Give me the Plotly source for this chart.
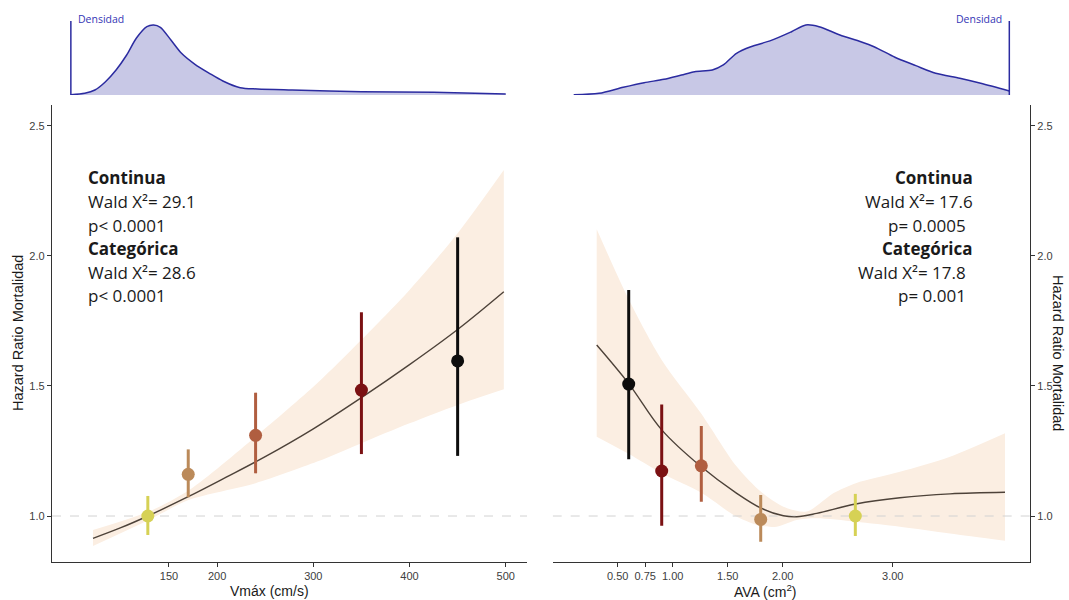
import plotly.graph_objects as go

W, H = 1069, 600

# ---------------- Vmáx panel ----------------
vmax_curve_x = [71, 100, 128, 170, 210, 250, 300, 350, 400, 450, 498]
vmax_curve_hr = [0.914, 0.955, 1.000, 1.074, 1.150, 1.228, 1.335, 1.455, 1.582, 1.717, 1.862]
vmax_ci_x = [71, 129, 171, 240, 304, 350, 400, 450, 498]
vmax_ci_upper = [0.946, 1.017, 1.100, 1.305, 1.510, 1.677, 1.869, 2.087, 2.330]
vmax_ci_lower = [0.885, 0.985, 1.062, 1.126, 1.209, 1.280, 1.356, 1.427, 1.487]

vmax_cat_x = [128, 170, 240, 350, 450]
vmax_cat_hr = [1.00, 1.16, 1.31, 1.484, 1.596]
vmax_cat_lo = [0.927, 1.072, 1.164, 1.238, 1.231]
vmax_cat_hi = [1.077, 1.256, 1.474, 1.783, 2.071]
vmax_cat_colors = ["#d6d155", "#bb8a5a", "#b05e40", "#7b1113", "#0d0d0d"]

vmax_dens_x = [48, 62.5, 73, 84, 95, 106, 116, 127, 134, 141, 152, 163, 177,
               192, 206, 224, 242, 278, 350, 425, 500]
vmax_dens_y = [0.004, 0.024, 0.071, 0.19, 0.357, 0.571, 0.81, 0.976, 1.0, 0.967,
               0.786, 0.596, 0.439, 0.31, 0.2, 0.104, 0.086, 0.071, 0.047, 0.039, 0.014]

vmax_ticks = [150, 200, 300, 400, 500]
vmax_ticktext = ["150", "200", "300", "400", "500"]

# ---------------- AVA panel ----------------
ava_curve_x = [0.309, 0.603, 0.90, 1.257, 1.582, 1.803, 2.006, 2.127, 2.309, 2.664, 3.066, 3.521, 4.021]
ava_curve_hr = [1.657, 1.507, 1.331, 1.190, 1.087, 1.030, 1.001, 0.997, 1.010, 1.046, 1.070, 1.085, 1.091]
ava_ci_upper_x = [0.309, 0.603, 0.90, 1.257, 1.582, 1.803, 2.006, 2.218, 2.46, 2.664, 3.066, 3.521, 4.021]
ava_ci_upper = [2.102, 1.830, 1.600, 1.395, 1.190, 1.093, 1.036, 1.017, 1.087, 1.126, 1.170, 1.228, 1.318]
ava_ci_lower_x = [0.309, 0.603, 0.90, 1.257, 1.582, 1.803, 1.945, 2.127, 2.309, 2.664, 3.066, 3.521, 4.021]
ava_ci_lower = [1.305, 1.238, 1.164, 1.090, 0.997, 0.962, 0.959, 0.985, 0.991, 0.978, 0.959, 0.933, 0.905]

ava_cat_x = [0.60, 0.90, 1.26, 1.80, 2.66]
ava_cat_hr = [1.507, 1.173, 1.193, 0.987, 1.00]
ava_cat_lo = [1.218, 0.963, 1.055, 0.901, 0.923]
ava_cat_hi = [1.869, 1.429, 1.346, 1.081, 1.085]
ava_cat_colors = ["#0d0d0d", "#7b1113", "#b05e40", "#bb8a5a", "#d6d155"]

ava_dens_x = [0.10, 0.33, 0.55, 0.74, 0.92, 1.08, 1.20, 1.36, 1.46, 1.58, 1.71, 1.89,
              2.08, 2.21, 2.33, 2.52, 2.71, 2.83, 3.02, 3.21, 3.39, 3.61, 3.80, 4.06]
ava_dens_y = [0.004, 0.024, 0.11, 0.176, 0.224, 0.286, 0.333, 0.357, 0.429, 0.596, 0.69,
              0.776, 0.904, 1.0, 0.976, 0.857, 0.761, 0.69, 0.539, 0.419, 0.31, 0.239,
              0.167, 0.057]

ava_ticks = [0.5, 0.75, 1.0, 1.5, 2.0, 3.0]
ava_ticktext = ["0.50", "0.75", "1.00", "1.50", "2.00", "3.00"]

hr_ticks = [1.0, 1.5, 2.0, 2.5]
hr_ticktext = ["1.0", "1.5", "2.0", "2.5"]

left_text = [("<b>Continua</b>", 177.5), ("Wald X²= 29.1", 201.5), ("p< 0.0001", 225),
             ("<b>Categórica</b>", 248.5), ("Wald X²= 28.6", 272), ("p< 0.0001", 295)]
right_text = [("<b>Continua</b>", 177.5, 975), ("Wald X²= 17.6", 201.5, 975),
              ("p= 0.0005", 225, 968), ("<b>Categórica</b>", 248.5, 975),
              ("Wald X²= 17.8", 272, 968), ("p= 0.001", 295, 968)]

# ---------------- style ----------------
BAND = "#fbeee2"
CURVE = "#4d4239"
DENS_FILL = "rgba(200,200,230,1)"
DENS_LINE = "#2b2ba0"
AXIS = "#333333"
TICKFONT = dict(family="Liberation Sans, Arial", size=11, color="#404040")
TEXTFONT = dict(family="Open Sans", size=17, color="#1a1a1a")

X_RANGE_V = [28.4, 522.1]
X_RANGE_A = [-0.091, 4.248]
Y_RANGE = [0.8232, 2.5796]
DENS_RANGE = [0, 1.057]


def fx(p):
    return p / W


def fy(p):
    return 1 - p / H


fig = go.Figure()


def add_panel(xa, ya, cx, cy, ux, uy, lx, ly, px, py, plo, phi, pcol, xr):
    fig.add_trace(go.Scatter(x=lx, y=ly, mode="lines", line=dict(width=0, shape="spline", smoothing=0.8),
                             xaxis=xa, yaxis=ya, hoverinfo="skip", showlegend=False))
    fig.add_trace(go.Scatter(x=ux, y=uy, mode="lines", line=dict(width=0, shape="spline", smoothing=0.8),
                             fill="tonexty", fillcolor=BAND, xaxis=xa, yaxis=ya,
                             hoverinfo="skip", showlegend=False))
    # reference line HR = 1
    fig.add_trace(go.Scatter(x=xr, y=[1.0, 1.0], mode="lines",
                             line=dict(color="#d2d2d2", width=1, dash="dash"),
                             xaxis=xa, yaxis=ya, hoverinfo="skip", showlegend=False))
    fig.add_trace(go.Scatter(x=cx, y=cy, mode="lines",
                             line=dict(color=CURVE, width=1.4, shape="spline", smoothing=1.0),
                             xaxis=xa, yaxis=ya, showlegend=False))
    for x, y, lo, hi, c in zip(px, py, plo, phi, pcol):
        fig.add_trace(go.Scatter(x=[x], y=[y], mode="markers",
                                 marker=dict(color=c, size=13, line=dict(width=0)),
                                 error_y=dict(type="data", symmetric=False, array=[hi - y],
                                              arrayminus=[y - lo], color=c, thickness=3, width=0),
                                 xaxis=xa, yaxis=ya, showlegend=False))


add_panel("x", "y", vmax_curve_x, vmax_curve_hr, vmax_ci_x, vmax_ci_upper,
          vmax_ci_x, vmax_ci_lower, vmax_cat_x, vmax_cat_hr, vmax_cat_lo, vmax_cat_hi,
          vmax_cat_colors, X_RANGE_V)
add_panel("x2", "y2", ava_curve_x, ava_curve_hr, ava_ci_upper_x, ava_ci_upper,
          ava_ci_lower_x, ava_ci_lower, ava_cat_x, ava_cat_hr, ava_cat_lo, ava_cat_hi,
          ava_cat_colors, X_RANGE_A)

# marginal densities
for xa, ya, dx, dy in [("x3", "y3", vmax_dens_x, vmax_dens_y), ("x4", "y4", ava_dens_x, ava_dens_y)]:
    fig.add_trace(go.Scatter(x=dx, y=dy, mode="lines", fill="tozeroy", fillcolor=DENS_FILL,
                             line=dict(color=DENS_LINE, width=1.5, shape="spline", smoothing=0.8),
                             xaxis=xa, yaxis=ya, showlegend=False))

axis_common = dict(showline=True, linecolor=AXIS, linewidth=1.3, ticks="outside", ticklen=4,
                   tickcolor=AXIS, tickwidth=1, tickfont=TICKFONT, showgrid=False, zeroline=False,
                   fixedrange=True)
hidden = dict(visible=False, showgrid=False, zeroline=False, fixedrange=True)

y_dom = [fy(562), fy(105)]
dens_dom = [fy(95), fy(95 - 74)]
xl_dom = [fx(52), fx(527)]
xr_dom = [fx(552.7), fx(1030)]

fig.update_layout(
    width=W, height=H, margin=dict(l=0, r=0, t=0, b=0),
    paper_bgcolor="white", plot_bgcolor="rgba(0,0,0,0)",
    xaxis=dict(domain=xl_dom, range=X_RANGE_V, tickvals=vmax_ticks, ticktext=vmax_ticktext,
               anchor="y", **axis_common),
    yaxis=dict(domain=y_dom, range=Y_RANGE, tickvals=hr_ticks, ticktext=hr_ticktext,
               anchor="x", **axis_common),
    xaxis2=dict(domain=xr_dom, range=X_RANGE_A, tickvals=ava_ticks, ticktext=ava_ticktext,
                anchor="y2", **axis_common),
    yaxis2=dict(domain=y_dom, range=Y_RANGE, tickvals=hr_ticks, ticktext=hr_ticktext,
                anchor="x2", side="right", **axis_common),
    xaxis3=dict(domain=xl_dom, range=X_RANGE_V, anchor="y3", **hidden),
    yaxis3=dict(domain=dens_dom, range=DENS_RANGE, anchor="x3", **hidden),
    xaxis4=dict(domain=xr_dom, range=X_RANGE_A, anchor="y4", **hidden),
    yaxis4=dict(domain=dens_dom, range=DENS_RANGE, anchor="x4", **hidden),
    showlegend=False,
)

# density frame lines
fig.add_shape(type="line", xref="x3", yref="y3", x0=vmax_dens_x[0], x1=vmax_dens_x[0],
              y0=0, y1=DENS_RANGE[1], line=dict(color=DENS_LINE, width=1.5))
fig.add_shape(type="line", xref="x4", yref="y4", x0=ava_dens_x[-1], x1=ava_dens_x[-1],
              y0=0, y1=DENS_RANGE[1], line=dict(color=DENS_LINE, width=1.5))

ann = []
dens_font = dict(family="Open Sans", size=10.5, color="#3535b5")
ann.append(dict(text="Densidad", x=fx(76), y=fy(19), xref="paper", yref="paper",
                xanchor="left", yanchor="middle", showarrow=False, font=dens_font))
ann.append(dict(text="Densidad", x=fx(1004), y=fy(19), xref="paper", yref="paper",
                xanchor="right", yanchor="middle", showarrow=False, font=dens_font))

for t, yy in left_text:
    ann.append(dict(text=t, x=fx(86), y=fy(yy), xref="paper", yref="paper", xanchor="left",
                    yanchor="middle", showarrow=False, font=TEXTFONT))
for t, yy, xx in right_text:
    ann.append(dict(text=t, x=fx(xx), y=fy(yy), xref="paper", yref="paper", xanchor="right",
                    yanchor="middle", showarrow=False, font=TEXTFONT))

title_font = dict(family="Liberation Sans, Arial", size=14, color="#1a1a1a")
ytitle_font = dict(family="Liberation Sans, Arial", size=14.5, color="#1a1a1a")
ann.append(dict(text="Vmáx (cm/s)", x=fx(269), y=fy(591), xref="paper", yref="paper",
                xanchor="center", yanchor="middle", showarrow=False, font=title_font))
ann.append(dict(text="AVA (cm<sup>2</sup>)", x=fx(765), y=fy(591), xref="paper", yref="paper",
                xanchor="center", yanchor="middle", showarrow=False, font=title_font))
ann.append(dict(text="Hazard Ratio Mortalidad", x=fx(18), y=fy(333), xref="paper", yref="paper",
                xanchor="center", yanchor="middle", showarrow=False, textangle=-90, font=ytitle_font))
ann.append(dict(text="Hazard Ratio Mortalidad", x=fx(1058), y=fy(353), xref="paper", yref="paper",
                xanchor="center", yanchor="middle", showarrow=False, textangle=90, font=ytitle_font))

fig.update_layout(annotations=ann)

fig.write_html("out.html")
